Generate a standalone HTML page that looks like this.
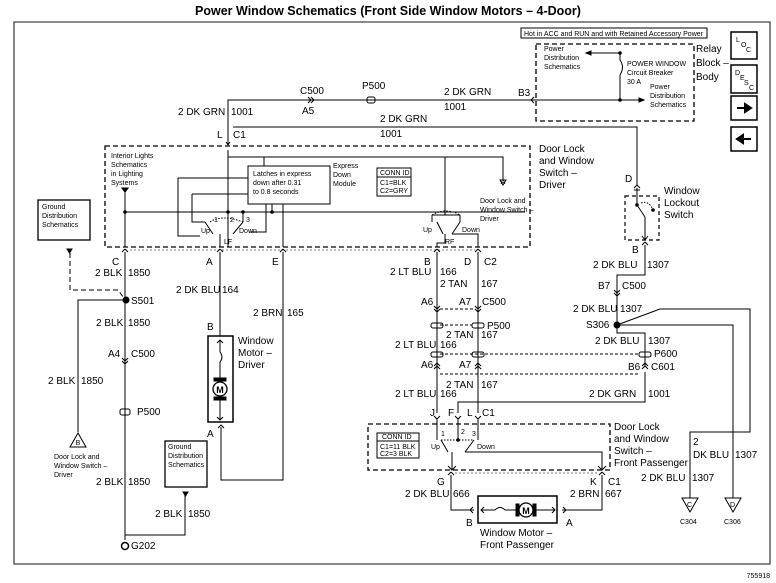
<!DOCTYPE html>
<html><head><meta charset="utf-8"><style>
html,body{margin:0;padding:0;background:#fff}
svg{display:block}
text{font-family:"Liberation Sans",Arial,sans-serif;fill:#000}
.l{font-size:10px}.s{font-size:7px}.t{font-size:12.5px;font-weight:bold}
</style></head><body>
<svg width="776" height="583" viewBox="0 0 776 583" xmlns="http://www.w3.org/2000/svg" fill="none" stroke="#000" stroke-width="1">
<text class="t" x="388" y="15" text-anchor="middle" stroke="none">Power Window Schematics (Front Side Window Motors – 4-Door)</text>
<!-- frame -->
<path d="M14 22H770V564H14Z" stroke="#444" stroke-width="1.3"/>
<text class="s" x="770" y="578" text-anchor="end" stroke="none">755918</text>

<!-- top right -->
<rect x="521" y="28" width="186" height="10"/>
<text class="s" x="524" y="36" stroke="none">Hot in ACC and RUN and with Retained Accessory Power</text>
<rect x="536" y="44" width="158" height="77" stroke-dasharray="5,3" stroke-width="1.3"/>
<text class="l" x="696" y="52" stroke="none">Relay</text>
<text class="l" x="696" y="66" stroke="none">Block –</text>
<text class="l" x="696" y="80" stroke="none">Body</text>
<text class="s" stroke="none"><tspan x="544" y="51">Power</tspan><tspan x="544" y="60">Distribution</tspan><tspan x="544" y="69">Schematics</tspan></text>
<path d="M620 53V60M620 75V100M586 53H620M536 100H640"/>
<path d="M620 60q5 7 0 15"/>
<path d="M586 53l5-2v4z M644 100l-5-2v4z" fill="#000"/>
<circle cx="620" cy="53" r="1.3" fill="#000"/><circle cx="620" cy="100" r="1.3" fill="#000"/>
<text class="s" stroke="none"><tspan x="627" y="66">POWER WINDOW</tspan><tspan x="627" y="75">Circuit Breaker</tspan><tspan x="627" y="84">30 A</tspan></text>
<text class="s" stroke="none"><tspan x="650" y="89">Power</tspan><tspan x="650" y="98">Distribution</tspan><tspan x="650" y="107">Schematics</tspan></text>
<!-- nav boxes -->
<rect x="731" y="32" width="26" height="27" stroke-width="1.5"/>
<text class="s" x="736" y="42" stroke="none">L</text><text class="s" x="741" y="47" stroke="none">O</text><text class="s" x="746" y="52" stroke="none">C</text>
<rect x="731" y="65" width="26" height="28" stroke-width="1.5"/>
<text class="s" x="735" y="75" stroke="none">D</text><text class="s" x="740" y="80" stroke="none">E</text><text class="s" x="744" y="85" stroke="none">S</text><text class="s" x="749" y="90" stroke="none">C</text>
<rect x="731" y="96" width="26" height="24" stroke-width="1.5"/>
<path d="M737 108h8v-4l6 4-6 4v-4" fill="#000" stroke-width="2"/>
<rect x="731" y="127" width="26" height="24" stroke-width="1.5"/>
<path d="M751 139h-8v-4l-6 4 6 4v-4" fill="#000" stroke-width="2"/>

<!-- top wires -->
<path d="M228 145V100H536M233 127H637V185"/>
<path d="M228 145l-2-3M228 145l2-3"/>
<text class="l" x="300" y="94" stroke="none">C500</text>
<text class="l" x="302" y="114" stroke="none">A5</text>
<path d="M308 97l3 3-3 3M311 97l3 3-3 3"/>
<text class="l" x="362" y="89" stroke="none">P500</text>
<rect x="367" y="97" width="8" height="6" rx="2"/>
<text class="l" x="444" y="95" stroke="none">2 DK GRN</text>
<text class="l" x="444" y="110" stroke="none">1001</text>
<text class="l" x="518" y="96" stroke="none">B3</text>
<path d="M534 97l-3 3 3 3"/>
<text class="l" x="178" y="115" stroke="none">2 DK GRN</text>
<text class="l" x="231" y="115" stroke="none">1001</text>
<text class="l" x="217" y="138" stroke="none">L</text>
<text class="l" x="233" y="138" stroke="none">C1</text>
<text class="l" x="380" y="122" stroke="none">2 DK GRN</text>
<text class="l" x="380" y="137" stroke="none">1001</text>

<!-- driver switch box -->
<rect x="105" y="146" width="425" height="101" stroke-dasharray="5,3" stroke-width="1.3"/>
<text class="l" stroke="none"><tspan x="539" y="152">Door Lock</tspan><tspan x="539" y="164">and Window</tspan><tspan x="539" y="176">Switch –</tspan><tspan x="539" y="188">Driver</tspan></text>
<text class="s" stroke="none"><tspan x="111" y="158">Interior Lights</tspan><tspan x="111" y="167">Schematics</tspan><tspan x="111" y="176">in Lighting</tspan><tspan x="111" y="185">Systems</tspan></text>
<path d="M125 188V247M122 188h6l-3 4z" />
<path d="M122 188h6l-3 4z" fill="#000"/>
<path d="M228 150V157H503V180M264 157V166"/>
<path d="M500 180l3 5 3-5z"/>
<text class="s" x="503" y="184" text-anchor="middle" stroke="none">A</text>
<text class="s" stroke="none"><tspan x="480" y="203">Door Lock and</tspan><tspan x="480" y="212">Window Switch –</tspan><tspan x="480" y="221">Driver</tspan></text>
<rect x="248" y="166" width="82" height="38"/>
<text class="s" stroke="none"><tspan x="253" y="176">Latches in express</tspan><tspan x="253" y="185">down after 0.31</tspan><tspan x="253" y="194">to 0.8 seconds</tspan></text>
<text class="s" stroke="none"><tspan x="333" y="168">Express</tspan><tspan x="333" y="177">Down</tspan><tspan x="333" y="186">Module</tspan></text>
<rect x="377" y="168" width="34" height="28"/>
<path d="M377 177h34"/>
<text class="s" stroke="none"><tspan x="380" y="175">CONN ID</tspan><tspan x="380" y="185">C1=BLK</tspan><tspan x="380" y="193">C2=GRY</tspan></text>
<!-- internal driver wires -->
<path d="M125 212H525M228 157V247M178 178H248M192 194H248M178 178V236H200M192 194V222H205M266 204V232H250M272 204V212M283 204V247M445 157V215M432 215H460M432 215V222M460 215V222"/>
<circle cx="125" cy="212" r="1.3" fill="#000"/><circle cx="228" cy="212" r="1.3" fill="#000"/><circle cx="272" cy="212" r="1.3" fill="#000"/><circle cx="243" cy="212" r="1.3" fill="#000"/>
<path d="M243 212V222"/>
<path d="M205 222l8 12M243 222l-10 12M220 234V247M437 222l6 12M460 222l-8 12M445 234V243H437V247M452 234H478V247" />
<path d="M210 222q12-8 33 0" stroke-dasharray="1.5,1.5"/>
<path d="M432 215q14-8 28 0" stroke-dasharray="1.5,1.5"/>
<text class="s" stroke="none"><tspan x="214" y="222">1</tspan><tspan x="230" y="222">2</tspan><tspan x="246" y="222">3</tspan><tspan x="201" y="233">Up</tspan><tspan x="239" y="233">Down</tspan><tspan x="224" y="244">LF</tspan><tspan x="423" y="232">Up</tspan><tspan x="462" y="232">Down</tspan><tspan x="445" y="244">RF</tspan></text>

<!-- connectors row -->
<path d="M125 249l-3 3M125 249l3 3M220 249l-3 3M220 249l3 3M283 249l-3 3M283 249l3 3M437 249l-3 3M437 249l3 3M478 249l-3 3M478 249l3 3"/>
<path d="M130 250H475" stroke-dasharray="2,2" stroke-width=".6"/>
<text class="l" stroke="none"><tspan x="112" y="265">C</tspan><tspan x="206" y="265">A</tspan><tspan x="272" y="265">E</tspan><tspan x="424" y="265">B</tspan><tspan x="464" y="265">D</tspan><tspan x="484" y="265">C2</tspan></text>

<!-- left column -->
<rect x="38" y="200" width="52" height="40" stroke-width="1.3"/>
<text class="s" stroke="none"><tspan x="42" y="209">Ground</tspan><tspan x="42" y="218">Distribution</tspan><tspan x="42" y="227">Schematics</tspan></text>
<path d="M67 249h5l-2.5 4z" fill="#000"/>
<path d="M70 253V290H118l6 8" stroke-dasharray="5,3"/>
<path d="M125 252V540M125 300H78V432"/>
<circle cx="126" cy="300" r="3" fill="#000"/>
<text class="l" stroke="none"><tspan x="95" y="276">2 BLK</tspan><tspan x="128" y="276">1850</tspan><tspan x="131" y="304">S501</tspan><tspan x="96" y="326">2 BLK</tspan><tspan x="128" y="326">1850</tspan><tspan x="108" y="357">A4</tspan><tspan x="131" y="357">C500</tspan><tspan x="48" y="384">2 BLK</tspan><tspan x="81" y="384">1850</tspan><tspan x="137" y="415">P500</tspan><tspan x="96" y="485">2 BLK</tspan><tspan x="128" y="485">1850</tspan><tspan x="155" y="517">2 BLK</tspan><tspan x="188" y="517">1850</tspan><tspan x="131" y="549">G202</tspan></text>
<path d="M122 358l3 3 3-3M122 361l3 3 3-3"/>
<rect x="120" y="409" width="10" height="6" rx="2"/>
<path d="M70 447l8-14 8 14z"/>
<text class="s" x="78" y="445" text-anchor="middle" stroke="none">B</text>
<text class="s" stroke="none"><tspan x="54" y="459">Door Lock and</tspan><tspan x="54" y="468">Window Switch –</tspan><tspan x="54" y="477">Driver</tspan></text>
<circle cx="125" cy="546" r="3.5" stroke-width="1.5"/>
<rect x="165" y="441" width="42" height="46" stroke-width="1.3"/>
<text class="s" stroke="none"><tspan x="168" y="449">Ground</tspan><tspan x="168" y="458">Distribution</tspan><tspan x="168" y="467">Schematics</tspan></text>
<path d="M183 492h5l-2.5 4z" fill="#000"/>
<path d="M185 495V535H125"/>

<!-- driver motor -->
<path d="M220 252V336M283 252V480H221V427"/>
<text class="l" stroke="none"><tspan x="176" y="293">2 DK BLU</tspan><tspan x="222" y="293">164</tspan><tspan x="253" y="316">2 BRN</tspan><tspan x="287" y="316">165</tspan><tspan x="207" y="330">B</tspan><tspan x="238" y="344">Window</tspan><tspan x="238" y="356">Motor –</tspan><tspan x="238" y="368">Driver</tspan><tspan x="207" y="437">A</tspan></text>
<rect x="208" y="336" width="25" height="86" stroke-width="1.5"/>
<path d="M220 340V352M220 362V378M220 400V420M217 343l3-3 3 3M217 417l3 3 3-3"/>
<path d="M220 352q4 5 0 10"/>
<rect x="214" y="378" width="12" height="3" fill="#000"/><rect x="214" y="397" width="12" height="3" fill="#000"/>
<circle cx="220" cy="389" r="7" fill="#fff" stroke-width="1.3"/>
<text x="220" y="393" text-anchor="middle" style="font-size:9px;font-weight:bold" stroke="none">M</text>
<path d="M218 428l3-3 3 3"/>

<!-- middle column -->
<path d="M437 252V413M478 252V413"/>
<text class="l" stroke="none"><tspan x="390" y="275">2 LT BLU</tspan><tspan x="440" y="275">166</tspan><tspan x="440" y="287">2 TAN</tspan><tspan x="481" y="287">167</tspan><tspan x="421" y="305">A6</tspan><tspan x="459" y="305">A7</tspan><tspan x="482" y="305">C500</tspan><tspan x="487" y="329">P500</tspan><tspan x="446" y="338">2 TAN</tspan><tspan x="481" y="338">167</tspan><tspan x="395" y="348">2 LT BLU</tspan><tspan x="440" y="348">166</tspan><tspan x="421" y="368">A6</tspan><tspan x="459" y="368">A7</tspan><tspan x="446" y="388">2 TAN</tspan><tspan x="481" y="388">167</tspan><tspan x="395" y="397">2 LT BLU</tspan><tspan x="440" y="397">166</tspan><tspan x="430" y="416">J</tspan><tspan x="448" y="416">F</tspan><tspan x="467" y="416">L</tspan><tspan x="482" y="416">C1</tspan></text>
<path d="M434 306l3 3 3-3M434 309l3 3 3-3M475 306l3 3 3-3M475 309l3 3 3-3"/>
<path d="M440 309H475M440 325H472M440 354H640M440 374H640" stroke-dasharray="3,2"/>
<rect x="431" y="323" width="12" height="5" rx="2"/><rect x="472" y="323" width="12" height="5" rx="2"/>
<rect x="431" y="352" width="12" height="5" rx="2"/><rect x="472" y="352" width="12" height="5" rx="2"/>
<rect x="639" y="352" width="12" height="5" rx="2"/>
<path d="M434 366l3-3 3 3M434 369l3-3 3 3M475 366l3-3 3 3M475 369l3-3 3 3M642 366l3-3 3 3M642 369l3-3 3 3"/>

<!-- right column -->
<path d="M637 185l-3 3M637 185l3 3"/>
<text class="l" x="625" y="182" stroke="none">D</text>
<rect x="625" y="196" width="34" height="44" stroke-dasharray="4,3" stroke-width="1.2"/>
<path d="M637 188V205M637 205l8 12M645 217V240M642 236l3 4 3-4M634 190h6"/>
<circle cx="637" cy="205" r="1.3" fill="#000"/><circle cx="653" cy="210" r="1.3" fill="#000"/>
<path d="M641 203q8-3 12 7" stroke-dasharray="1.5,1.5"/>
<text class="l" stroke="none"><tspan x="664" y="194">Window</tspan><tspan x="664" y="206">Lockout</tspan><tspan x="664" y="218">Switch</tspan></text>
<path d="M645 242l-3 3M645 242l3 3M645 245V275H617V325"/>
<text class="l" stroke="none"><tspan x="632" y="253">B</tspan><tspan x="593" y="268">2 DK BLU</tspan><tspan x="647" y="268">1307</tspan><tspan x="598" y="289">B7</tspan><tspan x="622" y="289">C500</tspan><tspan x="573" y="312">2 DK BLU</tspan><tspan x="620" y="312">1307</tspan><tspan x="586" y="328">S306</tspan><tspan x="595" y="344">2 DK BLU</tspan><tspan x="648" y="344">1307</tspan><tspan x="654" y="357">P600</tspan><tspan x="628" y="370">B6</tspan><tspan x="651" y="370">C601</tspan><tspan x="589" y="397">2 DK GRN</tspan><tspan x="648" y="397">1001</tspan></text>
<path d="M614 290l3 3 3-3M614 293l3 3 3-3"/>
<circle cx="617" cy="325" r="3" fill="#000"/>
<path d="M617 325V333H645V366M645 372V402H458V413"/>
<path d="M617 325L660 309H750V432H690V498M617 325H733V498"/>
<path d="M682 498l8 14 8-14zM725 498l8 14 8-14z"/>
<text class="s" stroke="none"><tspan x="687" y="507">C</tspan><tspan x="730" y="507">D</tspan><tspan x="680" y="524">C304</tspan><tspan x="724" y="524">C306</tspan></text>
<text class="l" stroke="none"><tspan x="693" y="445">2</tspan><tspan x="693" y="458">DK BLU</tspan><tspan x="735" y="458">1307</tspan><tspan x="641" y="481">2 DK BLU</tspan><tspan x="692" y="481">1307</tspan></text>

<!-- passenger switch -->
<path d="M434 416l3 3 3-3M455 416l3 3 3-3M475 416l3 3 3-3"/>
<rect x="368" y="424" width="242" height="46" stroke-dasharray="5,3" stroke-width="1.3"/>
<text class="l" stroke="none"><tspan x="614" y="430">Door Lock</tspan><tspan x="614" y="442">and Window</tspan><tspan x="614" y="454">Switch –</tspan><tspan x="614" y="466">Front Passenger</tspan></text>
<rect x="377" y="433" width="42" height="25"/>
<path d="M377 441h42"/>
<text class="s" stroke="none"><tspan x="382" y="439">CONN ID</tspan><tspan x="380" y="449">C1=11 BLK</tspan><tspan x="380" y="456">C2=3 BLK</tspan></text>
<path d="M437 419V440M458 419V440M478 419V440M441 440l7 12M474 440l-9 12M452 452V470M448 466l4 4 4-4M465 452H602V470M598 466l4 4 4-4"/>
<path d="M441 440H474" stroke-dasharray="1.5,1.5"/>
<circle cx="458" cy="440" r="1.3" fill="#000"/>
<text class="s" stroke="none"><tspan x="441" y="436">1</tspan><tspan x="461" y="434">2</tspan><tspan x="472" y="436">3</tspan><tspan x="431" y="449">Up</tspan><tspan x="477" y="449">Down</tspan></text>
<path d="M451 472l-3 3M451 472l3 3M602 472l-3 3M602 472l3 3M455 473H597" />
<path d="M455 473H597" stroke="#fff" stroke-width="2"/>
<path d="M455 473H597" stroke-dasharray="2,2" stroke-width=".6"/>
<text class="l" stroke="none"><tspan x="437" y="485">G</tspan><tspan x="590" y="485">K</tspan><tspan x="608" y="485">C1</tspan><tspan x="405" y="497">2 DK BLU</tspan><tspan x="453" y="497">666</tspan><tspan x="570" y="497">2 BRN</tspan><tspan x="605" y="497">667</tspan><tspan x="466" y="526">B</tspan><tspan x="566" y="526">A</tspan><tspan x="480" y="536">Window Motor –</tspan><tspan x="480" y="548">Front Passenger</tspan></text>
<path d="M451 475V510H474M602 475V510H562M473 507l-3 3 3 3M563 507l3 3-3 3"/>
<rect x="478" y="496" width="79" height="27" stroke-width="1.5"/>
<path d="M481 510H495M505 510H516M536 510H555M484 507l-3 3 3 3M552 507l3 3-3 3"/>
<path d="M495 510q5-5 10 0"/>
<rect x="516" y="504" width="3" height="12" fill="#000"/><rect x="533" y="504" width="3" height="12" fill="#000"/>
<circle cx="526" cy="510" r="7" fill="#fff" stroke-width="1.3"/>
<text x="526" y="514" text-anchor="middle" style="font-size:9px;font-weight:bold" stroke="none">M</text>
</svg>
</body></html>
